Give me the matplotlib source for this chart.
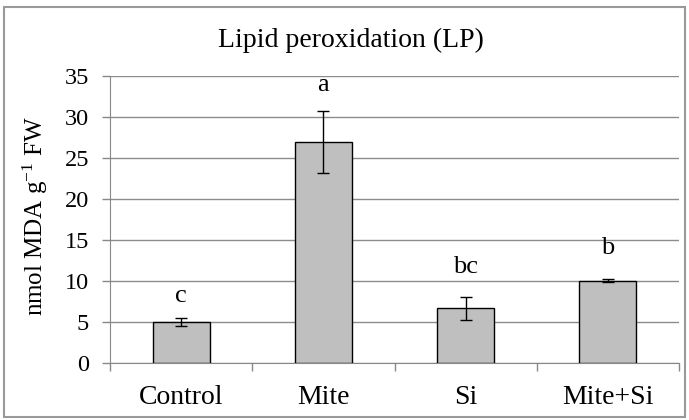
import matplotlib
matplotlib.use("Agg")
import matplotlib.pyplot as plt
from matplotlib.patches import Rectangle
import numpy as np

categories = ["Control", "Mite", "Si", "Mite+Si"]
means = [4.95, 26.9, 6.65, 10.0]
errors = [0.45, 3.8, 1.42, 0.2]
letters = ["c", "a", "bc", "b"]
letter_y = [8.1, 33.9, 11.7, 14.0]
yticks = [0, 5, 10, 15, 20, 25, 30, 35]

plt.rcParams['font.family'] = ['Liberation Serif', 'DejaVu Serif']
plt.rcParams['mathtext.default'] = 'regular'

fig = plt.figure(figsize=(6.89, 4.20), dpi=100)
ax = fig.add_axes([110/689, 1 - 362.7/420, (679-110)/689, (362.7-75.7)/420])

x = np.arange(len(categories))
ax.bar(x, means, width=0.4, color="#BFBFBF", edgecolor="black", linewidth=1.0, zorder=3)
ax.errorbar(x, means, yerr=errors, fmt="none", ecolor="black", elinewidth=1.0,
            capsize=4, capthick=1.0, zorder=4)
for xi, ly, lab in zip(x, letter_y, letters):
    ax.text(xi, ly, lab, ha="center", va="center", fontsize=19)

ax.set_xlim(-0.5, len(categories) - 0.5)
ax.set_ylim(0, 35)
ax.set_yticks(yticks)
ax.set_yticklabels([str(t) for t in yticks], fontsize=17.5)
ax.set_xticks(x)
ax.set_xticklabels(categories, fontsize=20)
ax.set_xticks(np.arange(-0.5, len(categories)), minor=True)
ax.tick_params(axis="x", which="major", length=0, pad=16)
ax.tick_params(axis="x", which="minor", length=6, color="#888888", width=1)
ax.tick_params(axis="y", length=6, color="#888888", width=1, pad=9)

ax.yaxis.grid(True, color="#8c8c8c", linewidth=1.0, zorder=0)
ax.set_axisbelow(True)
for s in ["top", "right"]:
    ax.spines[s].set_visible(False)
ax.spines["left"].set_color("#888888")
ax.spines["bottom"].set_color("#888888")

ax.set_ylabel("nmol MDA g$^{-1}$ FW", fontsize=18)
ax.yaxis.set_label_coords(-0.105, 0.51)

fig.text(351/689, 1 - 40/420, "Lipid peroxidation (LP)", ha="center", va="center", fontsize=20)

fig.patches.append(Rectangle((4/689, 3/420), 681/689, 410/420, transform=fig.transFigure,
                             fill=False, edgecolor="#999999", linewidth=1.5))

fig.savefig("out.png", dpi=100)
